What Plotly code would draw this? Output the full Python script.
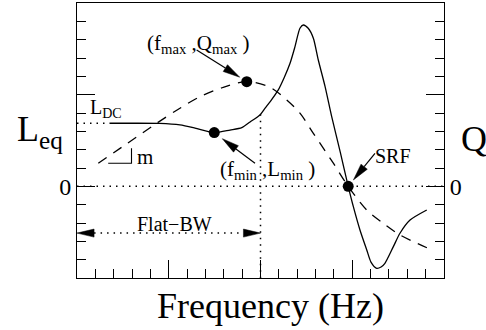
import math
import numpy as np
import plotly.graph_objects as go

# ---- curve data (frequency in arbitrary linear units) ----
freq_L = [1.80, 3.00, 4.50, 5.61, 6.43, 7.48, 8.34, 8.98, 9.43, 9.97, 10.25, 10.55,
          10.97, 11.30, 11.61, 11.88, 12.15, 12.33, 12.60, 12.88, 13.15, 13.52, 13.88,
          14.35, 14.78, 15.06, 15.42, 15.79, 16.02, 16.33, 16.57, 16.78, 17.24, 17.60,
          18.15, 19.06]
L_eq = [3.44, 3.44, 3.43, 3.35, 3.18, 2.93, 3.07, 3.20, 3.51, 3.89, 4.26, 4.65,
        5.26, 5.95, 6.71, 7.62, 8.62, 8.80, 8.62, 8.08, 6.89, 5.44, 3.80,
        1.85, 0.00, -1.11, -2.38, -3.47, -4.13, -4.47, -4.40, -4.20, -3.29, -2.56,
        -1.84, -1.29]

freq_Q = [1.16, 2.75, 4.34, 5.61, 6.70, 7.97, 9.25, 10.52, 11.43, 12.15, 12.88,
          13.97, 14.78, 15.79, 16.69, 17.60, 19.14]
Q_val = [1.26, 2.35, 3.44, 4.26, 4.89, 5.40, 5.71, 5.40, 4.71, 3.99, 2.89,
         1.26, 0.00, -1.29, -2.02, -2.65, -3.38]

F_RANGE = [0, 20]
Y_RANGE = [-5, 10]
F_FLAT = 10.0          # upper edge of the flat bandwidth
FLAT_BW_LEVEL = -2.55  # height of the Flat-BW arrow

# ---- characteristic points ----
iq = int(np.argmax(Q_val))
f_max, Q_max = freq_Q[iq], Q_val[iq]
flat_part = [i for i, f in enumerate(freq_L) if f < F_FLAT]
il = min(flat_part, key=lambda i: L_eq[i])
f_min, L_min = freq_L[il], L_eq[il]
isrf = L_eq.index(0.00)
f_srf = freq_L[isrf]
L_DC = L_eq[0]
L_at_flat = float(np.interp(F_FLAT, freq_L, L_eq))

FONT = "'Liberation Serif', 'Times New Roman', Times, serif"
INK = "black"

fig = go.Figure()

# dotted guide lines
DOT = dict(color=INK, width=1.5, dash="1.5px,5px")
fig.add_trace(go.Scatter(x=F_RANGE, y=[0, 0], mode="lines", line=DOT, hoverinfo="skip"))
fig.add_trace(go.Scatter(x=[F_RANGE[0], freq_L[0]], y=[L_DC, L_DC], mode="lines",
                         line=DOT, hoverinfo="skip"))
fig.add_trace(go.Scatter(x=[F_FLAT, F_FLAT], y=[L_at_flat, Y_RANGE[0]], mode="lines",
                         line=DOT, hoverinfo="skip"))

# L_eq (solid) and Q (dashed, right axis)
fig.add_trace(go.Scatter(x=freq_L, y=L_eq, mode="lines",
                         line=dict(color=INK, width=1.3, shape="spline", smoothing=0.7)))
fig.add_trace(go.Scatter(x=freq_Q, y=Q_val, mode="lines", yaxis="y2",
                         line=dict(color=INK, width=1.3, dash="10px,8px",
                                   shape="spline", smoothing=0.9)))

# characteristic point markers
fig.add_trace(go.Scatter(x=[f_max, f_min, f_srf], y=[Q_max, L_min, 0.0], mode="markers",
                         marker=dict(color=INK, size=11)))

# arrows drawn as a shaft plus a filled head (axes have equal px/unit)
HEAD_LEN, HEAD_HALF = 0.93, 0.22


def add_head(x1, y1, ux, uy):
    bx, by = x1 - ux * HEAD_LEN, y1 - uy * HEAD_LEN
    px, py = -uy * HEAD_HALF, ux * HEAD_HALF
    fig.add_trace(go.Scatter(x=[x1, bx + px, bx - px, x1], y=[y1, by + py, by - py, y1],
                             mode="lines", fill="toself", fillcolor=INK,
                             line=dict(color=INK, width=0.5), hoverinfo="skip"))
    return bx, by


def add_arrow(tail, target, standoff):
    x0, y0 = tail
    tx, ty = target
    d = math.hypot(tx - x0, ty - y0)
    ux, uy = (tx - x0) / d, (ty - y0) / d
    x1, y1 = tx - ux * standoff, ty - uy * standoff
    bx, by = add_head(x1, y1, ux, uy)
    fig.add_trace(go.Scatter(x=[x0, bx], y=[y0, by], mode="lines",
                             line=dict(color=INK, width=1.2), hoverinfo="skip"))


add_arrow((6.52, 7.44), (f_max, Q_max), 0.45)
add_arrow((9.70, 1.26), (f_min, L_min), 0.55)
add_arrow((16.24, 1.80), (f_srf, 0.0), 0.45)

# Flat-BW double arrow
bl, _ = add_head(F_RANGE[0], FLAT_BW_LEVEL, -1, 0)
br, _ = add_head(F_FLAT, FLAT_BW_LEVEL, 1, 0)
fig.add_trace(go.Scatter(x=[bl, br], y=[FLAT_BW_LEVEL, FLAT_BW_LEVEL], mode="lines",
                         line=DOT, hoverinfo="skip"))

# slope triangle
fig.add_trace(go.Scatter(x=[1.70, 2.97, 2.97], y=[1.26, 1.26, 2.08], mode="lines",
                         line=dict(color=INK, width=1.1), hoverinfo="skip"))


def label(text, x, y, size, xanchor="left", xref="x", yref="y"):
    fig.add_annotation(text=text, x=x, y=y, xref=xref, yref=yref, showarrow=False,
                       xanchor=xanchor, yanchor="middle",
                       font=dict(family=FONT, size=size, color=INK))


label("(f<sub>max</sub> ,Q<sub>max</sub> )", 3.71, 7.76, 21)
label("(f<sub>min</sub> ,L<sub>min</sub> )", 7.68, 0.89, 21)
label("SRF", 16.13, 1.66, 20)
label("L<sub>DC</sub>", 0.60, 4.22, 20)
label("m", 3.16, 1.60, 21)
label("Flat\u2212BW", 5.30, -2.08, 20, xanchor="center")
label("L<sub>eq</sub>", -0.169, 3.0, 36, xref="paper")
label("Q", 1.041, 2.6, 36, xref="paper")
label("Frequency (Hz)", 0.526, -0.102, 36, xanchor="center", xref="paper", yref="paper")

axis_common = dict(showgrid=False, zeroline=False, showline=True, linecolor=INK,
                   linewidth=1, ticks="inside", tickcolor=INK, tickwidth=1, ticklen=18)

fig.update_layout(
    width=486, height=330,
    margin=dict(l=77, r=42, t=3, b=52),
    paper_bgcolor="white", plot_bgcolor="white",
    showlegend=False,
    font=dict(family=FONT, color=INK),
    xaxis=dict(range=F_RANGE, tickmode="array", tickvals=[0, 5, 10, 15, 20],
               showticklabels=False, mirror=True,
               minor=dict(dtick=1, tick0=0, ticks="inside", ticklen=9,
                          tickcolor=INK, tickwidth=1),
               **axis_common),
    yaxis=dict(range=Y_RANGE, tickmode="array", tickvals=[-5, 0, 5, 10],
               ticktext=["", "0", "", ""],
               tickfont=dict(family=FONT, size=24, color=INK),
               minor=dict(dtick=1, tick0=0, ticks="inside", ticklen=9,
                          tickcolor=INK, tickwidth=1),
               **axis_common),
    yaxis2=dict(range=Y_RANGE, overlaying="y", side="right", anchor="x",
                tickmode="array", tickvals=[-5, 0, 5, 10], ticktext=["", "0", "", ""],
                tickfont=dict(family=FONT, size=24, color=INK),
                minor=dict(dtick=1, tick0=0, ticks="inside", ticklen=9,
                           tickcolor=INK, tickwidth=1),
                **axis_common),
)

fig.write_html("out.html")
